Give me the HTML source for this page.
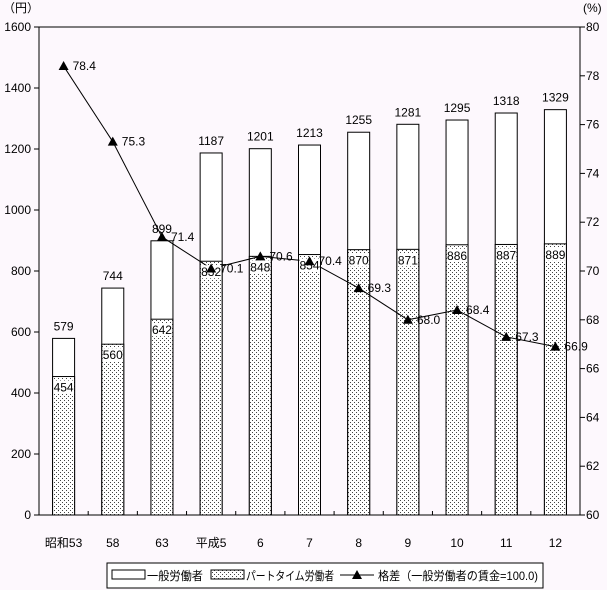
<!DOCTYPE html>
<html><head><meta charset="utf-8"><style>
body{margin:0;background:#fdf8fd;}
svg{display:block;font-family:"Liberation Sans","Noto Sans CJK JP",sans-serif;}
text{font-size:12px;fill:#000;}
</style></head><body>
<svg id="chart" width="607" height="590">
<defs>
<pattern id="dots" width="4" height="4" patternUnits="userSpaceOnUse">
<rect width="4" height="4" fill="#fff"/><rect x="0" y="0" width="1" height="1" fill="#444"/><rect x="2" y="2" width="1" height="1" fill="#444"/>
</pattern>
</defs>
<g id="g"></g>
</svg>
<script>
const categories=["昭和53","58","63","平成5","6","7","8","9","10","11","12"];
const generalWages=[579,744,899,1187,1201,1213,1255,1281,1295,1318,1329];
const partWages=[454,560,642,832,848,854,870,871,886,887,889];
const gapValues=[78.4,75.3,71.4,70.1,70.6,70.4,69.3,68.0,68.4,67.3,66.9];
const leftTicks=[0,200,400,600,800,1000,1200,1400,1600];
const rightTicks=[60,62,64,66,68,70,72,74,76,78,80];

const L=39,R=580,T=27,B=515;
const cw=(R-L)/categories.length;
const xc=i=>L+cw*(i+0.5);
const yL=v=>B-(v/1600)*(B-T);
const yR=v=>B-((v-60)/20)*(B-T);
const NS="http://www.w3.org/2000/svg";
const g=document.getElementById('g');
function mk(t,a,txt){const e=document.createElementNS(NS,t);for(const k in a)e.setAttribute(k,a[k]);if(txt!==undefined)e.textContent=txt;g.appendChild(e);return e;}

const bw=22;
categories.forEach((c,i)=>{
  const x=xc(i)-bw/2;
  let e=mk('rect',{x:x,y:yL(generalWages[i]),width:bw,height:B-yL(generalWages[i]),fill:'#fff',stroke:'#000','stroke-width':1});
  
  
  e=mk('rect',{x:x,y:yL(partWages[i]),width:bw,height:B-yL(partWages[i]),fill:'url(#dots)',stroke:'#000','stroke-width':1});
  
  
  e=mk('text',{x:xc(i),y:yL(generalWages[i])-8,'text-anchor':'middle'},String(generalWages[i]));
  
  
  e=mk('text',{x:xc(i),y:547,'text-anchor':'middle'},c);
  
  
});
let ax=mk('rect',{x:L,y:T,width:R-L,height:B-T,fill:'none',stroke:'#000','stroke-width':1});


leftTicks.forEach(v=>{
  let e=mk('line',{x1:L-5,x2:L,y1:yL(v),y2:yL(v),stroke:'#000'});
  
  
  e=mk('text',{x:L-8,y:yL(v)+4,'text-anchor':'end'},String(v));
  
  
});
rightTicks.forEach(v=>{
  let e=mk('line',{x1:R,x2:R+5,y1:yR(v),y2:yR(v),stroke:'#000'});
  
  
  e=mk('text',{x:R+6,y:yR(v)+4,'text-anchor':'start'},String(v));
  
  
});
for(let i=1;i<categories.length;i++){
  let e=mk('line',{x1:L+cw*i,x2:L+cw*i,y1:B-4,y2:B,stroke:'#000'});
  
  
}
let u=mk('text',{x:3,y:12},'（円）');


u=mk('text',{x:583,y:12},'(%)');


const pts=gapValues.map((v,i)=>xc(i)+','+yR(v)).join(' ');
let pl=mk('polyline',{points:pts,fill:'none',stroke:'#000','stroke-width':1});


categories.forEach((c,i)=>{
  const ty=yL(partWages[i])+15;
  let e=mk('rect',{x:xc(i)-10,y:ty-11,width:20,height:13,fill:'#fff'});
  
  
  e=mk('text',{x:xc(i),y:ty,'text-anchor':'middle'},String(partWages[i]));
  
  
});
gapValues.forEach((v,i)=>{
  const x=xc(i),y=yR(v);
  let e=mk('polygon',{points:`${x},${y-5} ${x-5},${y+4} ${x+5},${y+4}`,fill:'#000'});
  
  
  e=mk('text',{x:x+9,y:y+4},v.toFixed(1));
  
  
});
let lg=mk('rect',{x:107,y:563,width:436,height:25,fill:'#fff',stroke:'#000'});


let e=mk('rect',{x:112,y:570,width:33,height:9,fill:'#fff',stroke:'#000'});


e=mk('text',{x:147,y:580,textLength:56,lengthAdjust:'spacingAndGlyphs'},'一般労働者');


e=mk('rect',{x:211,y:570,width:33,height:9,fill:'url(#dots)',stroke:'#000'});


e=mk('text',{x:246,y:580,textLength:88,lengthAdjust:'spacingAndGlyphs'},'パートタイム労働者');


e=mk('line',{x1:340,x2:374,y1:575,y2:575,stroke:'#000'});


e=mk('polygon',{points:'357,570 352,579 362,579',fill:'#000'});


e=mk('text',{x:378,y:580,textLength:160,lengthAdjust:'spacingAndGlyphs'},'格差（一般労働者の賃金=100.0)');


</script>
</body></html>
